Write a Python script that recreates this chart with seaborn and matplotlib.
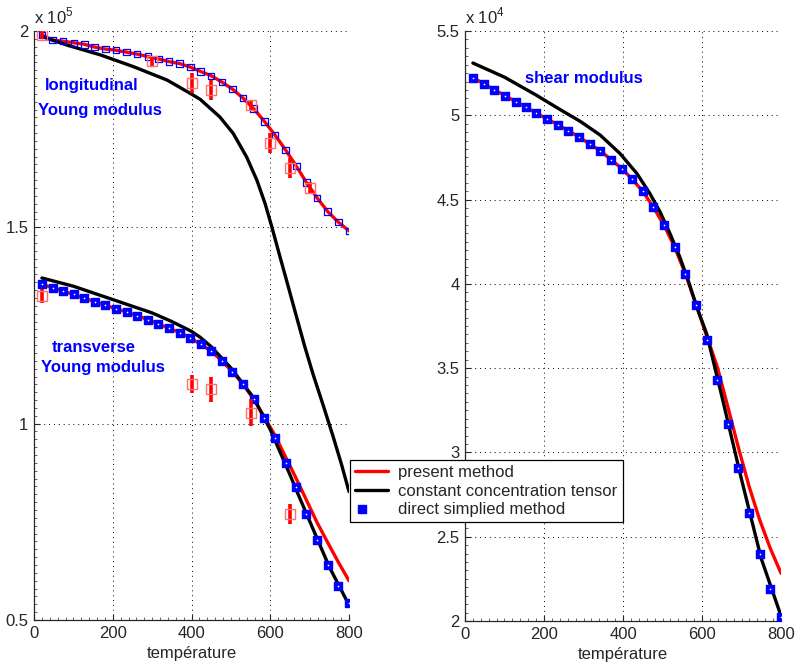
import numpy as np
import pandas as pd
import matplotlib
matplotlib.use("Agg")
import matplotlib.pyplot as plt
import seaborn as sns
from matplotlib.ticker import MultipleLocator
from matplotlib.legend_handler import HandlerTuple

# temperatures of the computed points
temp = [20, 47, 74, 101, 128, 154, 181, 208, 235, 262, 289, 316, 343, 370, 397,
        423, 450, 477, 504, 531, 558, 585, 612, 639, 666, 692, 719, 746, 773, 800]

# longitudinal Young modulus (x 1e5)
long_direct = [1.990, 1.977, 1.974, 1.970, 1.966, 1.959, 1.954, 1.951, 1.946, 1.941,
               1.935, 1.929, 1.922, 1.917, 1.908, 1.897, 1.886, 1.870, 1.852, 1.829,
               1.802, 1.770, 1.735, 1.697, 1.656, 1.614, 1.575, 1.540, 1.513, 1.491]
long_present = long_direct
long_const_t = [20, 84, 169, 253, 338, 397, 422, 472, 506, 540, 566, 587, 604, 625,
                646, 667, 688, 709, 735, 760, 781, 800]
long_const = [1.986, 1.964, 1.939, 1.909, 1.875, 1.841, 1.826, 1.781, 1.739, 1.679,
              1.620, 1.560, 1.501, 1.424, 1.348, 1.271, 1.195, 1.125, 1.045, 0.966,
              0.896, 0.827]
long_exp_t = [20, 300, 400, 450, 550, 600, 650, 700]
long_exp = [1.990, 1.924, 1.868, 1.850, 1.812, 1.714, 1.651, 1.601]
long_exp_err = [0.010, 0.013, 0.025, 0.025, 0.013, 0.025, 0.025, 0.014]

# transverse Young modulus (x 1e5)
trans_direct = [1.355, 1.346, 1.337, 1.329, 1.319, 1.311, 1.301, 1.293, 1.284, 1.275,
                1.265, 1.254, 1.243, 1.232, 1.219, 1.202, 1.185, 1.160, 1.132, 1.100,
                1.062, 1.015, 0.963, 0.901, 0.838, 0.770, 0.703, 0.640, 0.587, 0.544]
trans_present = [1.355, 1.346, 1.337, 1.329, 1.319, 1.311, 1.301, 1.293, 1.284, 1.275,
                 1.265, 1.254, 1.243, 1.232, 1.219, 1.202, 1.185, 1.160, 1.132, 1.100,
                 1.062, 1.017, 0.970, 0.915, 0.860, 0.805, 0.748, 0.697, 0.647, 0.600]
trans_const_t = [20, 100, 200, 300, 350, 400, 422, 450, 500, 557, 600, 650, 667, 700,
                 750, 800]
trans_const = [1.371, 1.350, 1.316, 1.282, 1.260, 1.235, 1.220, 1.196, 1.142, 1.067,
               0.985, 0.870, 0.829, 0.752, 0.635, 0.538]
trans_exp_t = [20, 400, 450, 550, 650]
trans_exp = [1.325, 1.100, 1.087, 1.028, 0.770]
trans_exp_err = [0.018, 0.023, 0.033, 0.034, 0.025]

# shear modulus (x 1e4)
shear_direct = [5.224, 5.188, 5.151, 5.117, 5.081, 5.049, 5.012, 4.978, 4.944, 4.908,
                4.871, 4.829, 4.789, 4.736, 4.684, 4.621, 4.549, 4.454, 4.347, 4.216,
                4.059, 3.877, 3.668, 3.428, 3.170, 2.905, 2.640, 2.396, 2.190, 2.026]
shear_present = [5.224, 5.188, 5.151, 5.117, 5.081, 5.049, 5.012, 4.978, 4.944, 4.908,
                 4.871, 4.829, 4.789, 4.736, 4.684, 4.621, 4.549, 4.454, 4.347, 4.216,
                 4.059, 3.877, 3.690, 3.505, 3.265, 3.030, 2.800, 2.600, 2.430, 2.283]
shear_const_t = [20, 100, 180, 240, 291, 342, 392, 435, 468, 494, 519, 544, 565, 587,
                 612, 650, 700, 750, 800]
shear_const = [5.310, 5.226, 5.120, 5.035, 4.965, 4.883, 4.774, 4.655, 4.536, 4.426,
               4.298, 4.158, 4.020, 3.861, 3.702, 3.335, 2.840, 2.370, 2.030]

sns.set_style("ticks")
plt.rcParams['font.family'] = ['Liberation Sans', 'DejaVu Sans']
plt.rcParams['mathtext.fontset'] = 'custom'
plt.rcParams['mathtext.rm'] = 'Liberation Sans'

fig = plt.figure(figsize=(7.95, 6.68), dpi=100)
ax1 = fig.add_axes([0.0428, 0.0719, 0.3962, 0.8817])
ax2 = fig.add_axes([0.5849, 0.0704, 0.3975, 0.8832])

RED = '#ff0000'
BLUE = '#0000ff'


def courbe(ax, x, y, color):
    sns.lineplot(x=x, y=y, ax=ax, color=color, lw=2.4, sort=False, estimator=None, zorder=3)


def carres_pleins(ax, x, y):
    sns.scatterplot(x=x, y=y, ax=ax, marker='s', s=40, color=BLUE, edgecolor=BLUE,
                    linewidth=1.0, zorder=4)
    sns.scatterplot(x=x, y=y, ax=ax, marker='o', s=1.5, color='white', linewidth=0, zorder=5)


def experience(ax, x, y, err):
    ax.errorbar(x, y, yerr=err, fmt='none', ecolor=RED, elinewidth=2.6, capsize=0, zorder=5)
    ax.plot(x, y, 's', ms=6.5, mfc='none', mec='#ff7070', mew=1.0, zorder=6)


# --- left plot : Young moduli
courbe(ax1, temp, long_present, RED)
courbe(ax1, long_const_t, long_const, 'black')
sns.scatterplot(x=temp, y=long_direct, ax=ax1, marker='s', s=22, facecolor='none',
                edgecolor=BLUE, linewidth=0.9, zorder=4)
experience(ax1, long_exp_t, long_exp, long_exp_err)

courbe(ax1, temp, trans_present, RED)
courbe(ax1, trans_const_t, trans_const, 'black')
carres_pleins(ax1, temp, trans_direct)
experience(ax1, trans_exp_t, trans_exp, trans_exp_err)

ax1.set_xlim(0, 800)
ax1.set_ylim(0.5, 2.0)
ax1.set_yticks([0.5, 1.0, 1.5, 2.0])
ax1.set_yticklabels(['0.5', '1', '1.5', '2'])
ax1.yaxis.set_minor_locator(MultipleLocator(0.02))
ax1.text(0.0, 1.008, r'x 10$^{5}$', transform=ax1.transAxes, fontsize=12, va='bottom', ha='left')

ax1.text(28, 1.862, 'longitudinal', color=BLUE, fontsize=12, fontweight='bold', va='center')
ax1.text(10, 1.798, 'Young modulus', color=BLUE, fontsize=12, fontweight='bold', va='center')
ax1.text(46, 1.194, 'transverse', color=BLUE, fontsize=12, fontweight='bold', va='center')
ax1.text(18, 1.143, 'Young modulus', color=BLUE, fontsize=12, fontweight='bold', va='center')

# --- right plot : shear modulus
courbe(ax2, temp, shear_present, RED)
courbe(ax2, shear_const_t, shear_const, 'black')
carres_pleins(ax2, temp, shear_direct)

ax2.set_xlim(0, 800)
ax2.set_ylim(2.0, 5.5)
ax2.set_yticks([2, 2.5, 3, 3.5, 4, 4.5, 5, 5.5])
ax2.set_yticklabels(['2', '2.5', '3', '3.5', '4', '4.5', '5', '5.5'])
ax2.yaxis.set_minor_locator(MultipleLocator(0.05))
ax2.text(0.0, 1.008, r'x 10$^{4}$', transform=ax2.transAxes, fontsize=12, va='bottom', ha='left')
ax2.text(152, 5.216, 'shear modulus', color=BLUE, fontsize=12, fontweight='bold', va='center')

for ax in (ax1, ax2):
    ax.set_xticks([0, 200, 400, 600, 800])
    ax.xaxis.set_minor_locator(MultipleLocator(20))
    ax.set_xlabel('température', fontsize=12, labelpad=4)
    ax.set_ylabel('')
    ax.grid(True, which='major', color='black', linestyle=(0, (1, 4)), linewidth=0.7)
    ax.tick_params(which='major', direction='in', length=4, width=0.8, labelsize=12, pad=4)
    ax.tick_params(which='minor', direction='in', length=2, width=0.5)
    for s in ('top', 'right'):
        ax.spines[s].set_visible(False)
    for s in ('left', 'bottom'):
        ax.spines[s].set_linewidth(0.9)
    ax.set_axisbelow(True)
    ax.set_facecolor('white')

# legend
h_red = plt.Line2D([], [], color=RED, lw=2.4)
h_black = plt.Line2D([], [], color='black', lw=2.4)
h_blue = plt.Line2D([], [], ls='none', marker='s', ms=5.5, mfc=BLUE, mec=BLUE)
h_dot = plt.Line2D([], [], ls='none', marker='o', ms=1.2, mfc='white', mec='white')
leg = fig.legend([h_red, h_black, (h_blue, h_dot)],
                 ['present method', 'constant concentration tensor', 'direct simplied method'],
                 handler_map={tuple: HandlerTuple(ndivide=None)},
                 loc='upper left', bbox_to_anchor=(350 / 795, 1 - 460 / 668),
                 fontsize=12, frameon=True, fancybox=False, framealpha=1,
                 edgecolor='black', borderpad=0.3, labelspacing=0.22,
                 handlelength=2.0, handletextpad=0.6, borderaxespad=0)
leg.get_frame().set_linewidth(0.9)
leg.set_zorder(10)

fig.savefig('out.png', dpi=100)
